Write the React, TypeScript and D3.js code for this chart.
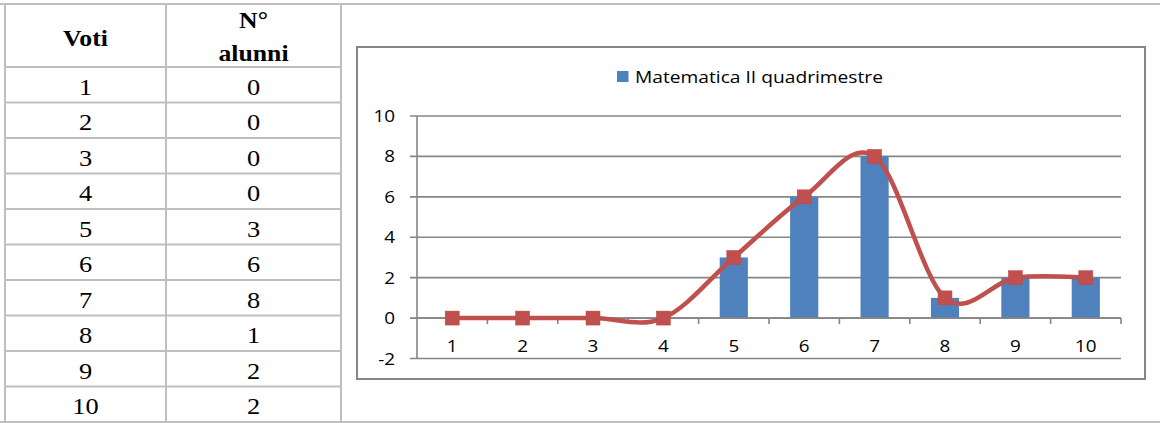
import React from "react";
import * as d3 from "d3";

// Voti (grades) and number of pupils for each grade
const voti = ["1", "2", "3", "4", "5", "6", "7", "8", "9", "10"];
const alunni = [0, 0, 0, 0, 3, 6, 8, 1, 2, 2];
const yTicks = [-2, 0, 2, 4, 6, 8, 10];
const seriesName = "Matematica II quadrimestre";
const headerVoti = "Voti";
const headerAlunni = ["N°", "alunni"];

const W = 1160;
const H = 423;

const tableGrid = "#BFBFBF";
const axisGray = "#868686";
const barBlue = "#4F81BD";
const lineRed = "#C0504D";

const chartFont = "'Open Sans', 'DejaVu Sans', sans-serif";
const serif = "'Liberation Serif', 'Times New Roman', serif";

// Text drawn slightly wider than the font's natural width
function WideText(props: {
  x: number;
  y: number;
  sx: number;
  size: number;
  font: string;
  anchor?: string;
  bold?: boolean;
  children: React.ReactNode;
}) {
  const { x, y, sx, size, font, anchor = "middle", bold, children } = props;
  return (
    <text
      transform={`translate(${x},${y}) scale(${sx},1)`}
      textAnchor={anchor}
      fontFamily={font}
      fontSize={size}
      fontWeight={bold ? "bold" : "normal"}
      fill="#000"
    >
      {children}
    </text>
  );
}

export default function App() {
  React.useEffect(() => {
    document.body.style.margin = "0";
  }, []);

  // table geometry
  const tLeft = 5;
  const tMid = 166;
  const tRight = 341;
  const tTop = 4;
  const headerBottom = 67;
  const tBottom = 422;
  const rowH = (tBottom - headerBottom) / voti.length;
  const c1 = (tLeft + tMid) / 2;
  const c2 = (tMid + tRight) / 2;

  // chart geometry
  const x = d3.scaleBand<string>().domain(voti).range([417, 1121]).padding(0);
  const y = d3.scaleLinear().domain([-2, 10]).range([358.5, 116]);
  const barW = x.bandwidth() / 2.5;
  const cx = (v: string) => (x(v) as number) + x.bandwidth() / 2;

  const line = d3
    .line<number>()
    .x((_, i) => cx(voti[i]))
    .y((d) => y(d))
    .curve(d3.curveCardinal.tension(0));

  const [x0, x1] = x.range();
  const mk = 14;

  return (
    <svg width={W} height={H} viewBox={`0 0 ${W} ${H}`} style={{ display: "block" }}>
      <rect x={0} y={0} width={W} height={H} fill="#fff" />

      {/* table */}
      <g stroke={tableGrid} strokeWidth={2} fill="none">
        <line x1={0} x2={W} y1={tTop} y2={tTop} />
        <line x1={0} x2={W} y1={tBottom} y2={tBottom} />
        <line x1={tLeft} x2={tLeft} y1={tTop} y2={tBottom} />
        <line x1={tMid} x2={tMid} y1={tTop} y2={tBottom} />
        <line x1={tRight} x2={tRight} y1={tTop} y2={tBottom} />
        {voti.map((_, i) => (
          <line key={i} x1={tLeft} x2={tRight} y1={headerBottom + i * rowH} y2={headerBottom + i * rowH} />
        ))}
      </g>
      <WideText x={c1} y={45.5} sx={1.12} size={23} font={serif} bold>
        {headerVoti}
      </WideText>
      <WideText x={c2} y={28} sx={1.12} size={23} font={serif} bold>
        {headerAlunni[0]}
      </WideText>
      <WideText x={c2} y={61} sx={1.12} size={23} font={serif} bold>
        {headerAlunni[1]}
      </WideText>
      {voti.map((v, i) => (
        <g key={v}>
          <WideText x={c1} y={headerBottom + i * rowH + 27.5} sx={1.1} size={24} font={serif}>
            {v}
          </WideText>
          <WideText x={c2} y={headerBottom + i * rowH + 27.5} sx={1.1} size={24} font={serif}>
            {alunni[i]}
          </WideText>
        </g>
      ))}

      {/* chart frame */}
      <rect x={357} y={47} width={788} height={332} fill="#fff" stroke={axisGray} strokeWidth={2} />

      {/* legend */}
      <rect x={617} y={71} width={11.5} height={11} fill={barBlue} />
      <text
        x={635}
        y={82.5}
        fontFamily={chartFont}
        fontSize={15.5}
        fill="#000"
        textLength={248}
        lengthAdjust="spacingAndGlyphs"
      >
        {seriesName}
      </text>

      {/* gridlines and y labels */}
      <g>
        {yTicks.map((t) => (
          <g key={t}>
            <line x1={410} x2={x1} y1={y(t)} y2={y(t)} stroke={axisGray} strokeWidth={1.6} />
            <WideText x={395} y={y(t) + 6} sx={1.18} size={16} font={chartFont} anchor="end">
              {t}
            </WideText>
          </g>
        ))}
        <line x1={x0} x2={x0} y1={y(10)} y2={y(-2)} stroke={axisGray} strokeWidth={1.6} />
      </g>

      {/* bars */}
      {voti.map((v, i) => (
        <rect
          key={v}
          x={cx(v) - barW / 2}
          y={y(Math.max(0, alunni[i]))}
          width={barW}
          height={Math.abs(y(alunni[i]) - y(0))}
          fill={barBlue}
        />
      ))}

      {/* category axis at zero */}
      <g stroke={axisGray} strokeWidth={1.6}>
        <line x1={x0} x2={x1} y1={y(0)} y2={y(0)} />
        {voti.map((v) => (
          <line
            key={v}
            x1={(x(v) as number) + x.bandwidth()}
            x2={(x(v) as number) + x.bandwidth()}
            y1={y(0)}
            y2={y(0) + 6}
          />
        ))}
      </g>
      {voti.map((v) => (
        <WideText key={v} x={cx(v)} y={351.5} sx={1.18} size={16} font={chartFont}>
          {v}
        </WideText>
      ))}

      {/* smoothed line with square markers */}
      <path d={line(alunni) || ""} fill="none" stroke={lineRed} strokeWidth={4.5} strokeLinejoin="round" />
      {alunni.map((d, i) => (
        <rect
          key={i}
          x={cx(voti[i]) - mk / 2}
          y={y(d) - mk / 2}
          width={mk}
          height={mk}
          fill={lineRed}
          stroke="#B9474A"
          strokeWidth={0.5}
        />
      ))}
    </svg>
  );
}
